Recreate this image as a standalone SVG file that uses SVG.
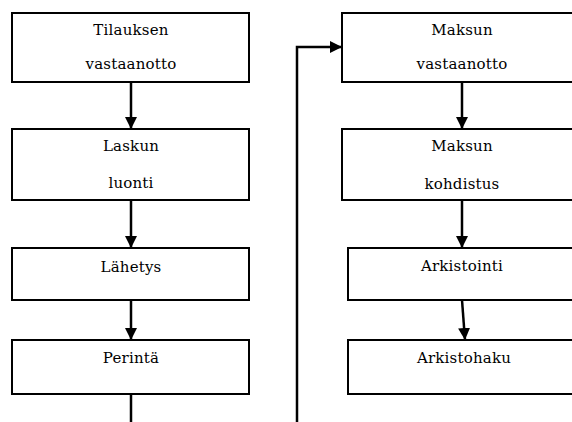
<svg xmlns="http://www.w3.org/2000/svg" width="572" height="422" viewBox="0 0 572 422">
<defs>
<style>
.box{fill:#fff;stroke:#000;stroke-width:2}
.t{font-family:'DejaVu Serif',serif;font-size:15px;letter-spacing:0.2px;text-anchor:middle;fill:#000}
.c{fill:none;stroke:#000;stroke-width:2.5}
</style>
<marker id="ah" markerUnits="userSpaceOnUse" markerWidth="13" markerHeight="12" refX="12" refY="6" orient="auto">
<path d="M0,0 L12,6 L0,12 Z" fill="#000"/>
</marker>
</defs>
<rect width="572" height="422" fill="#fff"/>
<g id="connectors">
<line class="c" x1="131" y1="82" x2="131" y2="129" marker-end="url(#ah)"/>
<line class="c" x1="131" y1="200" x2="131" y2="248" marker-end="url(#ah)"/>
<line class="c" x1="131" y1="300" x2="131" y2="340" marker-end="url(#ah)"/>
<line class="c" x1="131" y1="394" x2="131" y2="422"/>
<polyline class="c" points="297,422 297,47 342,47" marker-end="url(#ah)"/>
<line class="c" x1="462" y1="82" x2="462" y2="129" marker-end="url(#ah)"/>
<line class="c" x1="462" y1="200" x2="462" y2="248" marker-end="url(#ah)"/>
<line class="c" x1="462" y1="300" x2="465" y2="340" marker-end="url(#ah)"/>
</g>
<g id="tilauksen">
<rect class="box" x="12" y="13" width="237" height="69"/>
<text class="t" x="131" y="35">Tilauksen</text>
<text class="t" x="131" y="69">vastaanotto</text>
</g>
<g id="laskun">
<rect class="box" x="12" y="129" width="237" height="71"/>
<text class="t" x="131" y="151">Laskun</text>
<text class="t" x="131" y="188">luonti</text>
</g>
<g id="lahetys">
<rect class="box" x="12" y="248" width="237" height="52"/>
<text class="t" x="131" y="272">Lähetys</text>
</g>
<g id="perinta">
<rect class="box" x="12" y="340" width="237" height="54"/>
<text class="t" x="131" y="363">Perintä</text>
</g>
<g id="maksun-vastaanotto">
<rect class="box" x="342" y="13" width="240" height="69"/>
<text class="t" x="462" y="35">Maksun</text>
<text class="t" x="462" y="69">vastaanotto</text>
</g>
<g id="maksun-kohdistus">
<rect class="box" x="342" y="129" width="240" height="71"/>
<text class="t" x="462" y="151">Maksun</text>
<text class="t" x="462" y="189">kohdistus</text>
</g>
<g id="arkistointi">
<rect class="box" x="348" y="248" width="234" height="52"/>
<text class="t" x="462" y="271">Arkistointi</text>
</g>
<g id="arkistohaku">
<rect class="box" x="348" y="340" width="234" height="54"/>
<text class="t" x="464" y="363">Arkistohaku</text>
</g>
</svg>
